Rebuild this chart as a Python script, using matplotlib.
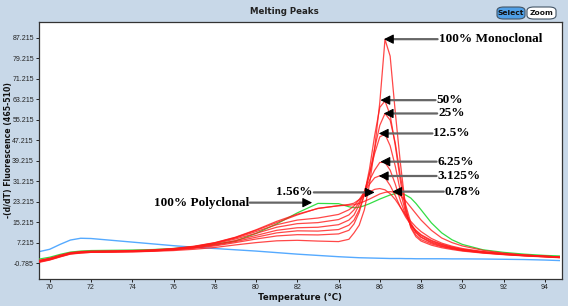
import matplotlib
matplotlib.use("Agg")
import matplotlib.pyplot as plt
from matplotlib.patches import FancyBboxPatch

# temperature grid (deg C), shared by all curves
temps = [69.5, 70, 70.5, 71, 71.5, 72, 73, 74, 75, 76, 77, 78, 79, 80, 81, 82, 83, 84,
         84.5, 84.75, 85, 85.25, 85.5, 85.75, 86, 86.25, 86.5, 86.75, 87, 87.25, 87.5,
         87.75, 88, 88.5, 89, 89.5, 90, 91, 92, 93, 94, 94.7]

# -(d/dT) fluorescence, red = monoclonal dilutions
mono_100 = [-0.3, 0.5, 1.7, 2.8, 3.2, 3.4, 3.5, 3.6, 3.8, 4.1, 4.6, 5.3, 6.3, 7.2, 7.9, 8.1, 7.8, 7.6,
            8.5, 11, 14, 20, 30, 44, 62, 86.5, 80, 58, 38, 21, 13, 9.5, 7.8, 6.2, 5.2, 4.5, 3.9,
            3.1, 2.5, 2.0, 1.6, 1.3]
mono_50 = [0.0, 0.8, 2.0, 3.0, 3.4, 3.6, 3.7, 3.8, 4.0, 4.4, 5.0, 5.9, 7.2, 8.6, 9.8, 10.3, 10.2, 10.6,
           12, 14.5, 19, 26, 36, 49, 60, 62.5, 57, 45, 31, 20, 13.5, 10.2, 8.4, 6.7, 5.6, 4.8, 4.1,
           3.2, 2.6, 2.1, 1.7, 1.4]
mono_25 = [0.2, 1.0, 2.1, 3.1, 3.5, 3.7, 3.8, 3.9, 4.1, 4.5, 5.2, 6.2, 7.6, 9.3, 11.0, 11.8, 11.7, 12.3,
           14, 16, 20, 26, 34, 44, 53, 57.6, 55, 46, 33, 22, 15, 11.2, 9.2, 7.1, 5.8, 4.9, 4.2,
           3.3, 2.6, 2.1, 1.7, 1.4]
mono_12 = [-0.5, 0.4, 1.6, 2.7, 3.1, 3.4, 3.5, 3.6, 3.9, 4.4, 5.2, 6.4, 8.0, 10.0, 12.0, 13.0, 13.2, 14.2,
           16, 18, 22, 27, 34, 42, 48.5, 49.5, 45, 37, 27, 19, 14, 11.2, 9.4, 7.4, 6.1, 5.1, 4.4,
           3.4, 2.7, 2.2, 1.8, 1.5]
mono_6 = [0.1, 0.9, 2.1, 3.1, 3.5, 3.7, 3.8, 3.9, 4.2, 4.7, 5.5, 6.8, 8.6, 10.8, 13.2, 14.6, 15.0, 16.2,
          18, 20, 23, 27, 31.5, 35.5, 38.5, 38.5, 35.5, 30, 23.5, 18, 14.2, 11.8, 10, 7.8, 6.4, 5.3, 4.5,
          3.5, 2.8, 2.2, 1.8, 1.5]
mono_3 = [-0.2, 0.6, 1.8, 2.9, 3.3, 3.5, 3.6, 3.8, 4.1, 4.7, 5.6, 7.0, 9.0, 11.5, 14.2, 16.0, 16.8, 18.2,
          20, 21.5, 24, 27, 30, 32.5, 33.3, 32.5, 29.5, 25.5, 21, 17.2, 14.2, 12, 10.3, 8.1, 6.6, 5.5, 4.6,
          3.6, 2.8, 2.3, 1.9, 1.6]
mono_156 = [0.3, 1.1, 2.3, 3.3, 3.7, 3.9, 4.0, 4.1, 4.4, 4.9, 5.8, 7.2, 9.3, 12.2, 15.5, 18.3, 20.5, 21.6,
            22.1, 22.6, 24, 25.5, 27, 28, 28.3, 27.8, 26.3, 24, 21, 18, 15.5, 13.3, 11.5, 8.8, 7.0, 5.8, 4.9,
            3.7, 2.9, 2.3, 1.9, 1.6]
mono_078 = [0.0, 0.8, 2.0, 3.0, 3.4, 3.6, 3.7, 3.9, 4.2, 4.8, 5.7, 7.1, 9.2, 12.0, 15.0, 18.0, 20.6, 21.6,
            21.8, 22.0, 22.5, 23.3, 24.2, 25.2, 26.2, 26.8, 27.1, 26.8, 25.5, 23.5, 21, 18.5, 16, 12, 9.0, 7.2, 5.9,
            4.2, 3.1, 2.4, 1.9, 1.6]
# green = 100% polyclonal, blue = blank
poly_100 = [0.8, 1.5, 2.6, 3.5, 3.9, 4.1, 4.2, 4.3, 4.5, 4.9, 5.6, 6.6, 7.8, 10.8, 14.5, 18.8, 22.5, 22.4,
            21.2, 20.8, 21.0, 21.6, 22.4, 23.3, 24.2, 25.0, 25.8, 26.3, 26.4, 25.8, 24.6, 22.5, 20, 14.9, 11, 8.3, 6.5,
            4.4, 3.4, 2.7, 2.2, 2.0]
blank = [3.7, 4.6, 6.5, 8.2, 8.9, 8.8, 8.1, 7.4, 6.7, 6.0, 5.4, 4.9, 4.4, 3.9, 3.3, 2.7, 2.2, 1.7,
         1.5, 1.4, 1.3, 1.25, 1.2, 1.15, 1.1, 1.05, 1.0, 1.0, 1.0, 0.95, 0.95, 0.9, 0.9, 0.9, 0.9, 0.85, 0.85,
         0.8, 0.7, 0.6, 0.4, 0.2]

red_curves = [mono_100, mono_50, mono_25, mono_12, mono_6, mono_3, mono_156, mono_078]

x_ticks = [70, 72, 74, 76, 78, 80, 82, 84, 86, 88, 90, 92, 94]
y_ticks = [-0.785, 7.215, 15.215, 23.215, 31.215, 39.215, 47.215, 55.215, 63.215, 71.215, 79.215, 87.215]

# annotations: label, arrow tip (x, y), tail x, side of label
notes = [
    ("100% Monoclonal", 86.2, 86.6, 88.8, "right"),
    ("50%", 86.03, 62.8, 88.7, "right"),
    ("25%", 86.19, 57.6, 88.78, "right"),
    ("12.5%", 85.95, 49.8, 88.55, "right"),
    ("6.25%", 86.03, 38.8, 88.75, "right"),
    ("3.125%", 85.95, 33.2, 88.75, "right"),
    ("0.78%", 86.6, 27.1, 89.1, "right"),
    ("1.56%", 85.75, 26.8, 82.8, "left"),
    ("100% Polyclonal", 82.72, 22.8, 79.7, "left"),
]

bg = "#c8d8e8"
fig = plt.figure(figsize=(5.68, 3.06), dpi=100, facecolor=bg)
ax = fig.add_axes([39 / 568, 1 - 279 / 306, (562 - 39) / 568, (279 - 22) / 306])
ax.set_facecolor("white")

ax.plot(temps, blank, color="#55aaff", lw=1.0, zorder=2)
ax.plot(temps, poly_100, color="#33dd44", lw=0.9, zorder=3)
for ys in red_curves:
    ax.plot(temps, ys, color="#ff1a1a", lw=0.9, alpha=0.8, zorder=4)

ax.set_xlim(69.48, 94.83)
ax.set_ylim(-7.0, 93.3)
ax.set_xticks(x_ticks)
ax.set_yticks(y_ticks)
ax.set_yticklabels([f"{v:g}" for v in y_ticks])
ax.tick_params(length=2.5, width=0.7, pad=1.2, labelsize=5.0, colors="#222222")
for lab in ax.get_xticklabels() + ax.get_yticklabels():
    lab.set_fontfamily("Liberation Sans")
for sp in ax.spines.values():
    sp.set_color("#333333")
    sp.set_linewidth(0.9)

for text, tx, ty, tail, side in notes:
    d = 0.38 if side == "right" else -0.38
    ax.annotate("", xy=(tx + d, ty), xytext=(tail, ty),
                arrowprops=dict(arrowstyle="-", color="#666666", lw=1.6,
                                shrinkA=0, shrinkB=0), zorder=6)
    ax.annotate("", xy=(tx, ty), xytext=(tx + d, ty),
                arrowprops=dict(arrowstyle="-|>,head_length=0.58,head_width=0.29",
                                color="black", lw=0.8, shrinkA=0, shrinkB=0), zorder=7)
    if side == "right":
        ax.text(tail + 0.05, ty, text, ha="left", va="center", fontsize=9.5,
                fontweight="bold", family="Liberation Serif", zorder=8)
    else:
        ax.text(tail - 0.05, ty, text, ha="right", va="center", fontsize=9.5,
                fontweight="bold", family="Liberation Serif", zorder=8)

fig.text(0.5, 1 - 12 / 306, "Melting Peaks", ha="center", va="center", fontsize=6.2,
         fontweight="bold", family="DejaVu Sans", color="#222222")
fig.text(300 / 568, 1 - 297 / 306, "Temperature (°C)", ha="center", va="center",
         fontsize=6.2, fontweight="bold", family="DejaVu Sans", color="#111111")
fig.text(9 / 568, 1 - 150 / 306, "-(d/dT) Fluorescence (465-510)", ha="center", va="center",
         rotation=90, fontsize=5.6, fontweight="bold", family="DejaVu Sans", color="#111111")

# Select / Zoom buttons
for x0, x1, face, label in [(497, 525, "#4f9fe6", "Select"), (527, 556, "white", "Zoom")]:
    w = (x1 - x0) / 568
    h = 12 / 306
    b = FancyBboxPatch((x0 / 568, 1 - 19 / 306), w, h, transform=fig.transFigure,
                       boxstyle="round,pad=0,rounding_size=0.012", facecolor=face,
                       edgecolor="#445566", lw=0.8)
    fig.patches.append(b)
    fig.text((x0 + x1) / 2 / 568, 1 - 12.8 / 306, label, ha="center", va="center",
             fontsize=5.4, fontweight="bold", family="DejaVu Sans", color="#111111")

fig.savefig("out.png", dpi=100, facecolor=bg)
